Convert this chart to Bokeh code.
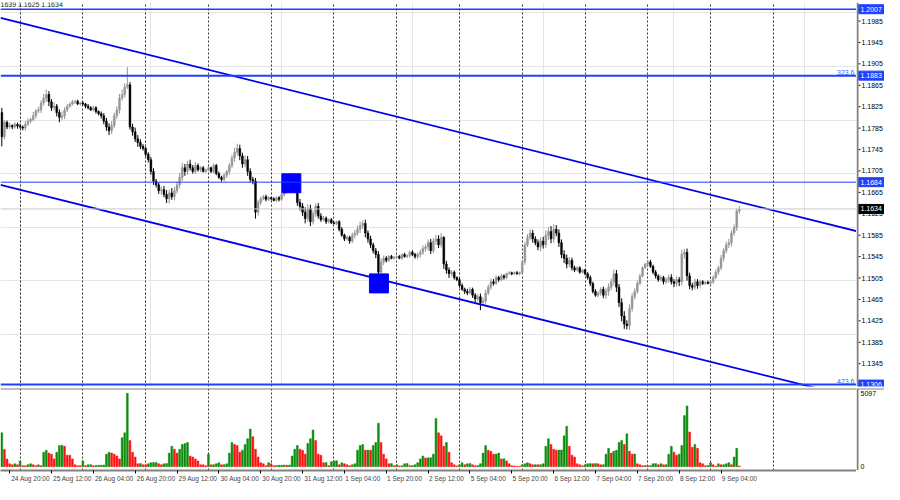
from bokeh.plotting import figure
from bokeh.models import Range1d, FixedTicker, Label, Span, Grid, ColumnDataSource
from bokeh.layouts import column, row
from bokeh.core.properties import value
from bokeh.embed import file_html
from bokeh.resources import INLINE

# ---------------- data (hourly candles, prices in 1/10000) ----------------
first_open = 11814
c_aug24 = [11769, 11796, 11787, 11790, 11787, 11792, 11789]
c_aug25 = [11787, 11785, 11792, 11798, 11801, 11808, 11817, 11819, 11832, 11841, 11848, 11834,
           11823, 11826, 11814, 11805, 11808, 11819, 11826, 11830, 11834, 11835, 11830, 11832]
c_aug26 = [11830, 11826, 11823, 11819, 11823, 11816, 11812, 11808, 11798, 11787, 11780, 11790,
           11808, 11819, 11841, 11848, 11862, 11866, 11787, 11778, 11765, 11758, 11751, 11747]
c_aug29 = [11736, 11726, 11704, 11686, 11679, 11668, 11670, 11661, 11653, 11664, 11657, 11668,
           11679, 11693, 11711, 11704, 11718, 11711, 11704, 11715, 11707, 11711, 11704, 11707]
c_aug30 = [11711, 11704, 11715, 11700, 11693, 11689, 11697, 11704, 11715, 11729, 11740, 11747,
           11733, 11718, 11726, 11704, 11689, 11686, 11628, 11646, 11653, 11657, 11652, 11655]
c_aug31 = [11653, 11650, 11655, 11652, 11661, 11666, 11671, 11682, 11688, 11679, 11646, 11639,
           11628, 11616, 11635, 11610, 11625, 11639, 11621, 11614, 11617, 11610, 11614, 11608]
c_sep1 = [11607, 11610, 11596, 11585, 11578, 11581, 11574, 11585, 11589, 11596, 11603, 11607,
          11589, 11578, 11567, 11556, 11549, 11516, 11535, 11542, 11538, 11545, 11542, 11544]
c_sep2 = [11545, 11542, 11549, 11545, 11547, 11553, 11549, 11545, 11549, 11553, 11560, 11563,
          11571, 11556, 11574, 11578, 11567, 11581, 11531, 11520, 11513, 11516, 11506, 11502]
c_sep5 = [11491, 11484, 11480, 11477, 11484, 11473, 11466, 11470, 11459, 11462, 11477, 11488,
          11498, 11495, 11506, 11502, 11509, 11506, 11513, 11515, 11513, 11515, 11513, 11515]
c_sep6 = [11535, 11567, 11581, 11589, 11578, 11571, 11563, 11574, 11567, 11585, 11592, 11578,
          11596, 11589, 11571, 11549, 11542, 11531, 11538, 11524, 11520, 11524, 11516, 11520]
c_sep7 = [11513, 11506, 11495, 11480, 11473, 11477, 11484, 11473, 11480, 11488, 11498, 11513,
          11488, 11459, 11434, 11419, 11416, 11448, 11470, 11480, 11495, 11509, 11524, 11531]
c_sep8 = [11535, 11527, 11516, 11509, 11502, 11506, 11498, 11502, 11506, 11498, 11495, 11502,
          11498, 11549, 11553, 11509, 11491, 11488, 11498, 11491, 11498, 11495, 11497, 11495]
c_sep9 = [11498, 11506, 11516, 11524, 11542, 11556, 11567, 11571, 11589, 11599, 11630, 11634]

# upper / lower wick lengths (pips)
u_aug24 = [9, 4, 3, 5, 2, 4, 3]
d_aug24 = [18, 5, 4, 3, 4, 3, 5]
u_aug25 = [4, 3, 6, 5, 3, 7, 4, 6, 5, 8, 9, 6, 5, 7, 4, 6, 8, 5, 4, 3, 4, 3, 3, 2]
d_aug25 = [3, 4, 5, 3, 4, 3, 5, 4, 6, 5, 7, 8, 6, 5, 7, 9, 5, 6, 4, 3, 3, 4, 2, 3]
u_aug26 = [3, 2, 4, 3, 4, 3, 2, 4, 5, 6, 7, 8, 6, 7, 8, 9, 7, 33, 5, 6, 8, 7, 6, 4]
d_aug26 = [3, 4, 3, 2, 3, 4, 3, 5, 6, 7, 8, 6, 5, 6, 7, 5, 6, 4, 5, 7, 6, 8, 5, 4]
u_aug29 = [3, 4, 5, 6, 4, 5, 6, 7, 8, 6, 9, 7, 6, 8, 9, 7, 6, 8, 5, 6, 4, 3, 3, 2]
d_aug29 = [4, 5, 6, 7, 5, 6, 7, 5, 8, 9, 6, 7, 5, 6, 7, 8, 6, 5, 4, 5, 3, 4, 2, 3]
u_aug30 = [3, 2, 4, 3, 4, 3, 4, 3, 5, 6, 8, 9, 7, 6, 8, 7, 6, 5, 6, 5, 4, 3, 4, 3]
d_aug30 = [2, 3, 4, 3, 3, 4, 3, 5, 6, 5, 7, 6, 8, 7, 6, 8, 5, 6, 12, 6, 5, 3, 4, 3]
u_aug31 = [2, 3, 2, 3, 4, 3, 4, 5, 6, 7, 8, 7, 6, 9, 8, 7, 6, 5, 6, 5, 4, 3, 2, 3]
d_aug31 = [3, 2, 3, 4, 3, 4, 3, 5, 6, 7, 6, 8, 7, 9, 6, 8, 5, 6, 5, 4, 3, 4, 3, 2]
u_sep1 = [3, 2, 3, 4, 3, 4, 3, 5, 6, 7, 8, 6, 7, 5, 6, 4, 5, 6, 7, 5, 4, 3, 3, 2]
d_sep1 = [2, 3, 4, 3, 4, 3, 5, 4, 6, 5, 7, 6, 8, 7, 6, 5, 7, 12, 5, 6, 4, 3, 2, 3]
u_sep2 = [2, 3, 2, 3, 2, 3, 4, 3, 4, 5, 6, 5, 6, 7, 6, 8, 7, 8, 2, 6, 5, 4, 3, 2]
d_sep2 = [3, 2, 3, 2, 3, 4, 3, 4, 5, 6, 5, 6, 7, 6, 5, 7, 6, 5, 9, 7, 8, 5, 4, 3]
u_sep5 = [3, 4, 3, 5, 4, 3, 4, 5, 6, 7, 6, 5, 6, 5, 4, 3, 4, 3, 2, 3, 2, 2, 3, 2]
d_sep5 = [4, 3, 5, 4, 3, 5, 6, 5, 14, 6, 5, 4, 5, 4, 3, 4, 3, 4, 3, 2, 3, 2, 2, 3]
u_sep6 = [4, 5, 6, 7, 6, 5, 6, 7, 8, 9, 8, 10, 9, 8, 7, 6, 8, 7, 6, 5, 4, 3, 3, 2]
d_sep6 = [3, 5, 4, 6, 7, 5, 6, 8, 7, 6, 9, 8, 7, 6, 8, 7, 9, 8, 6, 5, 4, 3, 3, 2]
u_sep7 = [2, 3, 4, 3, 4, 3, 4, 5, 6, 7, 6, 8, 7, 6, 8, 9, 7, 8, 7, 6, 5, 4, 3, 2]
d_sep7 = [3, 4, 5, 4, 3, 4, 5, 6, 7, 8, 6, 7, 9, 8, 10, 9, 7, 8, 6, 5, 4, 3, 3, 2]
u_sep8 = [3, 4, 3, 4, 3, 4, 3, 4, 5, 6, 5, 6, 5, 9, 6, 7, 6, 5, 6, 5, 4, 3, 2, 3]
d_sep8 = [4, 3, 4, 5, 4, 3, 5, 4, 6, 5, 7, 6, 8, 7, 8, 9, 7, 6, 5, 6, 4, 3, 3, 2]
u_sep9 = [3, 4, 5, 4, 6, 5, 6, 7, 5, 6, 5, 5]
d_sep9 = [3, 4, 3, 5, 4, 6, 5, 6, 7, 5, 6, 5]

# tick volumes
v_aug24 = [2350, 1200, 530, 200, 130, 200, 130]
v_aug25 = [400, 70, 70, 130, 200, 130, 70, 130, 70, 1000, 1140, 940, 870, 540, 1000, 1470, 1480, 1410, 800, 800, 540, 130, 70, 70]
v_aug26 = [400, 70, 130, 140, 70, 80, 90, 100, 110, 870, 1000, 940, 870, 740, 540, 2010, 2350, 5097, 1810, 1000, 670, 200, 210, 130]
v_aug29 = [130, 200, 270, 280, 290, 200, 130, 200, 210, 940, 1410, 1210, 940, 1210, 1540, 1610, 1680, 740, 670, 540, 400, 130, 130, 70]
v_aug30 = [870, 130, 140, 200, 270, 130, 140, 200, 940, 1680, 1540, 1470, 1000, 1140, 1540, 1940, 2610, 2080, 1210, 670, 270, 200, 70, 270]
v_aug31 = [200, 70, 80, 90, 100, 110, 100, 110, 740, 1210, 1470, 1210, 1140, 870, 1610, 1940, 2550, 1810, 870, 800, 270, 280, 70, 340]
v_sep1 = [400, 410, 130, 270, 200, 130, 70, 130, 200, 1140, 1470, 1540, 1140, 1150, 1140, 1470, 1680, 3020, 1680, 870, 540, 200, 210, 70]
v_sep2 = [130, 50, 70, 200, 210, 70, 80, 130, 270, 540, 740, 600, 610, 620, 870, 3350, 2350, 2140, 1410, 1680, 1000, 270, 130, 50]
v_sep5 = [130, 270, 130, 200, 210, 130, 70, 80, 200, 940, 1470, 1140, 1070, 870, 880, 940, 540, 550, 400, 200, 70, 50, 30, 30]
v_sep6 = [130, 200, 270, 200, 130, 140, 130, 140, 200, 1410, 1940, 1540, 1210, 1140, 1150, 1160, 2140, 2810, 1410, 800, 670, 200, 130, 70]
v_sep7 = [130, 200, 210, 200, 210, 200, 130, 140, 870, 1270, 940, 1070, 1140, 1680, 1810, 1540, 2280, 1070, 870, 880, 200, 130, 70, 80]
v_sep8 = [70, 80, 200, 210, 130, 200, 130, 140, 870, 1410, 1000, 800, 870, 1470, 3550, 4220, 2410, 1340, 1540, 1270, 270, 200, 70, 80]
v_sep9 = [270, 130, 30, 200, 130, 140, 200, 270, 130, 670, 1270, 40]

# time-axis labels (candle index, 25 Aug 00:00 = 0) and day separators
label_idx = [-4, 12, 28, 44, 60, 76, 92, 108, 124, 140, 156, 172, 188, 204, 220, 236, 252, 268]
label_txt = ["24 Aug 20:00", "25 Aug 12:00", "26 Aug 04:00", "26 Aug 20:00", "29 Aug 12:00",
             "30 Aug 04:00", "30 Aug 20:00", "31 Aug 12:00", "1 Sep 04:00", "1 Sep 20:00",
             "2 Sep 12:00", "5 Sep 04:00", "5 Sep 20:00", "6 Sep 12:00", "7 Sep 04:00",
             "7 Sep 20:00", "8 Sep 12:00", "9 Sep 04:00"]
day_starts = [0, 24, 48, 72, 96, 120, 144, 168, 192, 216, 240, 264, 288]

price_ticks = [1.1345, 1.1385, 1.1425, 1.1465, 1.1505, 1.1545, 1.1585, 1.1625, 1.1665,
               1.1705, 1.1745, 1.1785, 1.1825, 1.1865, 1.1905, 1.1945, 1.1985]
blue_levels = [1.2007, 1.1883, 1.1684, 1.1306]
bid_price = 1.1634
fibo_levels = [1.1883, 1.1306]
fibo_text = ["323.6", "423.6"]
header_text = "1639 1.1625 1.1634"

chan_x = [-7.5, 319.8]
chan_upper = [1.19908, 1.15925]
chan_lower = [1.16790, 1.12807]
marker_x = [103.7, 137.2]
marker_y = [1.1682, 1.1495]
vol_ticks = [0, 5097]

# ---------------- assemble ----------------
closes = (c_aug24 + c_aug25 + c_aug26 + c_aug29 + c_aug30 + c_aug31 + c_sep1 + c_sep2 +
          c_sep5 + c_sep6 + c_sep7 + c_sep8 + c_sep9)
ups = (u_aug24 + u_aug25 + u_aug26 + u_aug29 + u_aug30 + u_aug31 + u_sep1 + u_sep2 +
       u_sep5 + u_sep6 + u_sep7 + u_sep8 + u_sep9)
dns = (d_aug24 + d_aug25 + d_aug26 + d_aug29 + d_aug30 + d_aug31 + d_sep1 + d_sep2 +
       d_sep5 + d_sep6 + d_sep7 + d_sep8 + d_sep9)
vols = (v_aug24 + v_aug25 + v_aug26 + v_aug29 + v_aug30 + v_aug31 + v_sep1 + v_sep2 +
        v_sep5 + v_sep6 + v_sep7 + v_sep8 + v_sep9)
n = len(closes)
assert n == 283 and len(ups) == n and len(dns) == n and len(vols) == n, (n, len(ups), len(dns), len(vols))
idx = list(range(-7, -7 + n))
opens = [first_open] + closes[:-1]

o = [v / 10000 for v in opens]
c = [v / 10000 for v in closes]
top = [max(a, b) for a, b in zip(o, c)]
bot = [min(a, b) for a, b in zip(o, c)]
hi = [t + u / 10000 for t, u in zip(top, ups)]
lo = [b - d / 10000 for b, d in zip(bot, dns)]
ccol = ["#959595" if cc > oo else "#000000" for oo, cc in zip(o, c)]
vcol = ["#0c8c0c" if (i == 0 or vols[i] > vols[i - 1]) else "#ff1010" for i in range(n)]

src = ColumnDataSource(dict(x=idx, top=top, bot=bot, hi=hi, lo=lo, col=ccol))
vsrc = ColumnDataSource(dict(x=idx, v=vols, col=vcol))

FONT = "Liberation Sans"
W = 884
AX = 28                 # width of the right price-scale strip
PW = W - AX
H1, H2 = 388, 96
xr = Range1d(chan_x[0], chan_x[1])
yr1 = Range1d(1.13024, 1.20196)
yr2 = Range1d(-268, 5432)
GRAY = "#808080"
BLUE = "#2040ff"


def base(fig):
    fig.outline_line_color = None
    fig.background_fill_color = "white"
    fig.border_fill_color = "white"
    return fig


# ---------------- price panel ----------------
p1 = base(figure(width=PW, height=H1, x_range=xr, y_range=yr1, output_backend="svg",
                 toolbar_location=None, x_axis_location=None, y_axis_location=None,
                 min_border_left=0, min_border_right=0, min_border_top=2, min_border_bottom=2))
p1.add_layout(Grid(dimension=0, ticker=FixedTicker(ticks=day_starts), grid_line_color="#303030",
                   grid_line_dash="2 2", grid_line_width=1))

p1.add_layout(Span(location=bid_price, dimension="width", line_color="#c8c8c8", line_width=1))
p1.segment(x0="x", y0="lo", x1="x", y1="hi", line_color="col", line_width=1, source=src)
p1.vbar(x="x", width=0.7, top="top", bottom="bot", fill_color="col", line_color="col",
        line_width=0.5, source=src)

lw = {1.2007: 1.5, 1.1883: 2, 1.1684: 1, 1.1306: 2}
for lv in blue_levels:
    p1.add_layout(Span(location=lv, dimension="width", line_color=BLUE, line_width=lw[lv]))

p1.line(chan_x, chan_upper, line_color="#0000ee", line_width=1.8)
p1.line(chan_x, chan_lower, line_color="#0000ee", line_width=1.8)
p1.scatter(marker_x, marker_y, marker="square", size=19, fill_color="#0000ff", line_color="#0000ff")

for lv, t in zip(fibo_levels, fibo_text):
    p1.add_layout(Label(x=chan_x[1], y=lv, x_offset=-2, y_offset=1, text=t, text_align="right",
                        text_baseline="bottom", text_color="#3a5cff", text_font=FONT,
                        text_font_size="7px"))
p1.add_layout(Label(x=chan_x[0], y=blue_levels[0], x_offset=0, y_offset=1, text=header_text,
                    text_baseline="bottom", text_color="#202020", text_font=FONT,
                    text_font_size="7px"))

# ---------------- price scale strip (right) ----------------
a1 = base(figure(width=AX, height=H1, x_range=Range1d(0, AX), y_range=yr1, output_backend="svg",
                 toolbar_location=None, x_axis_location=None, y_axis_location=None,
                 min_border_left=0, min_border_right=0, min_border_top=2, min_border_bottom=2))
a1.grid.visible = False
a1.add_layout(Span(location=1, dimension="height", line_color=GRAY, line_width=2))
a1.segment(x0=[2] * len(price_ticks), x1=[4] * len(price_ticks), y0=price_ticks, y1=price_ticks,
           line_color="#000000", line_width=1)
a1.text(x=[5] * len(price_ticks), y=price_ticks, text=["%.4f" % t for t in price_ticks],
        text_font=value(FONT), text_font_size="7px", text_baseline="middle", text_color="#000000")
box_h = 9 * (yr1.end - yr1.start) / (H1 - 4)
box_levels = blue_levels + [bid_price]
box_cols = [BLUE] * len(blue_levels) + ["#000000"]
a1.rect(x=[15] * len(box_levels), y=box_levels, width=26, height=box_h,
        fill_color=box_cols, line_color=box_cols)
a1.text(x=[4] * len(box_levels), y=box_levels, text=["%.4f" % t for t in box_levels],
        text_font=value(FONT), text_font_size="7px", text_baseline="middle", text_color="white")

# ---------------- volume panel ----------------
p2 = base(figure(width=PW, height=H2, x_range=xr, y_range=yr2, output_backend="svg",
                 toolbar_location=None, y_axis_location=None,
                 min_border_left=0, min_border_right=0, min_border_top=0, min_border_bottom=14))
p2.ygrid.visible = False
p2.xgrid.ticker = FixedTicker(ticks=day_starts)
p2.xgrid.grid_line_color = "#303030"
p2.xgrid.grid_line_dash = "2 2"
p2.add_layout(Span(location=yr2.end, dimension="width", line_color=GRAY, line_width=2))
p2.vbar(x="x", width=0.7, top="v", bottom=0, fill_color="col", line_color="col",
        line_width=0.5, source=vsrc)

px_per_idx = PW / (chan_x[1] - chan_x[0])
centers = [i + round((len(t) * 3.2 + 2) / 2 / px_per_idx) for i, t in zip(label_idx, label_txt)]
x2 = p2.xaxis[0]
x2.ticker = FixedTicker(ticks=centers, minor_ticks=label_idx)
x2.major_label_overrides = {ct: t for ct, t in zip(centers, label_txt)}
x2.major_label_text_font = FONT
x2.major_label_text_font_size = "6.5px"
x2.major_tick_out = 0
x2.major_tick_in = 0
x2.minor_tick_out = 3
x2.minor_tick_in = 0
x2.minor_tick_line_color = "#000000"
x2.major_label_standoff = 1
x2.axis_line_color = GRAY
x2.axis_line_width = 2

# ---------------- volume scale strip ----------------
a2 = base(figure(width=AX, height=H2, x_range=Range1d(0, AX), y_range=yr2, output_backend="svg",
                 toolbar_location=None, x_axis_location=None, y_axis_location=None,
                 min_border_left=0, min_border_right=0, min_border_top=0, min_border_bottom=14))
a2.grid.visible = False
a2.add_layout(Span(location=1, dimension="height", line_color=GRAY, line_width=2))
a2.add_layout(Span(location=yr2.end, dimension="width", line_color=GRAY, line_width=2))
a2.text(x=[4, 4], y=vol_ticks, text=[str(v) for v in vol_ticks], text_font=value(FONT),
        text_font_size="7px", text_baseline="middle", text_color="#000000")

layout = column(row(p1, a1, spacing=0), row(p2, a2, spacing=0), spacing=0)
open("out.html", "w").write(file_html(layout, INLINE))
